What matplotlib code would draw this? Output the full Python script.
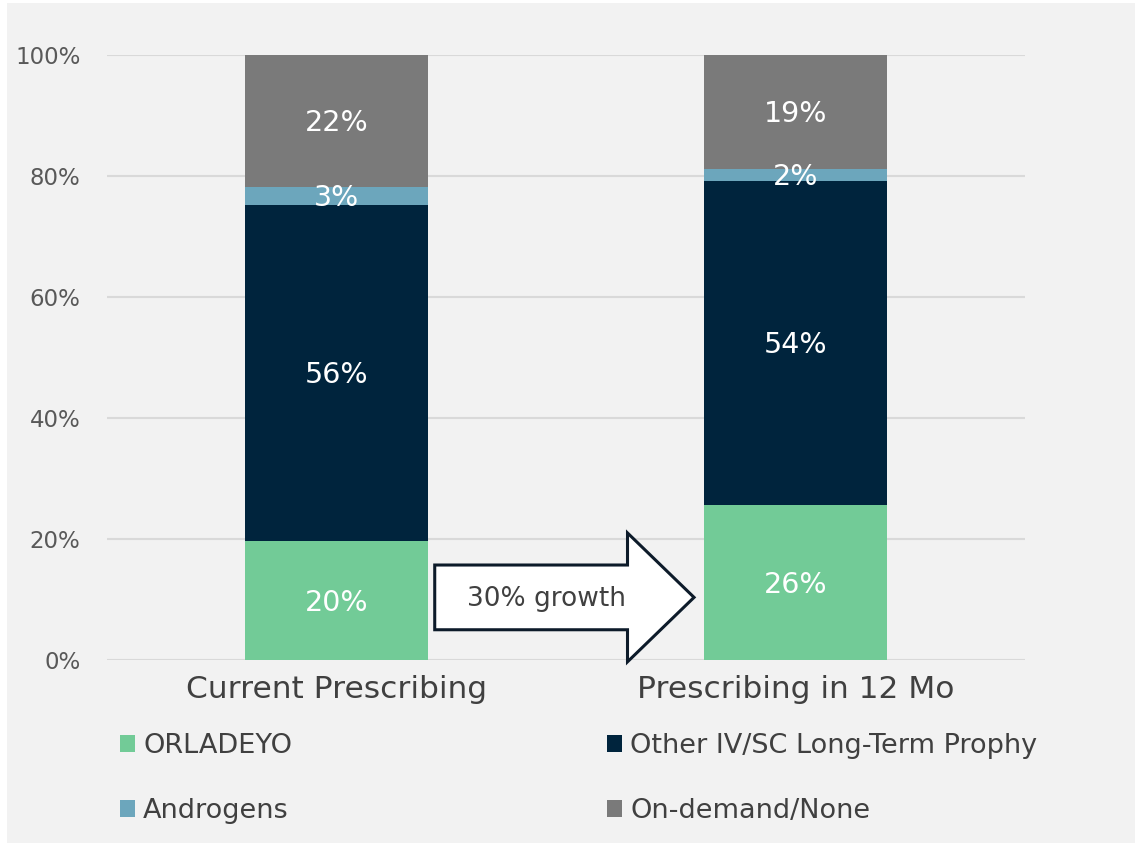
import matplotlib.pyplot as plt
import numpy as np
from matplotlib.patches import FancyArrow, Rectangle, Patch

plt.rcParams['font.family'] = ['DejaVu Sans']

categories = ["Current Prescribing", "Prescribing in 12 Mo"]
series = ["ORLADEYO", "Other IV/SC Long-Term Prophy", "Androgens", "On-demand/None"]
orladeyo = [19.7, 25.6]
other_iv = [55.5, 53.6]
androgens = [3.0, 2.0]
on_demand = [21.8, 18.8]
colors = ["#72CB97", "#00243D", "#6CA6BC", "#7A7A7A"]
yticks = [0, 20, 40, 60, 80, 100]
arrow_text = "30% growth"

fig = plt.figure(figsize=(11.35, 8.43), dpi=100, facecolor="white")
fig.add_artist(Rectangle((7/1135, 0), 1, 1 - 3/843, transform=fig.transFigure,
                         facecolor="#F2F2F2", edgecolor="none", zorder=-10))
ax = fig.add_axes([107/1135, 1 - 660/843, (1025-107)/1135, (660-55)/843])
ax.set_facecolor("none")

x = np.arange(len(categories))
bottom = np.zeros(len(categories))
data = [orladeyo, other_iv, androgens, on_demand]
for vals, name, c in zip(data, series, colors):
    vals = np.array(vals)
    ax.bar(x, vals, 0.4, bottom=bottom, color=c, zorder=3, label=name)
    for xi, b, v in zip(x, bottom, vals):
        ax.text(xi, b + v / 2 - 0.35, f"{v:.0f}%", ha="center", va="center",
                color="white", fontsize=20.5, zorder=5)
    bottom += vals

ax.set_xlim(-0.5, 1.5)
ax.set_ylim(0, 100)
ax.set_yticks(yticks)
ax.set_yticklabels([f"{t}%" for t in yticks], fontsize=16.5, color="#595959")
ax.yaxis.grid(True, color="#D9D9D9", lw=1.5, zorder=0)
ax.set_xticks(x)
ax.set_xticklabels(categories, fontsize=22.5, color="#404040")
ax.tick_params(length=0)
ax.tick_params(axis="y", pad=19)
ax.tick_params(axis="x", pad=11)
for s in ax.spines.values():
    s.set_visible(False)

arr = FancyArrow(0.214, 10.35, 0.565, 0, width=10.7, head_width=21.3,
                 head_length=0.145, length_includes_head=True,
                 facecolor="white", edgecolor="#0D1B2A", lw=2.2,
                 zorder=6, clip_on=False)
ax.add_patch(arr)
ax.text(0.458, 10.0, arrow_text, ha="center", va="center", fontsize=19,
        color="#404040", zorder=7)

def legend_at(items, xpos):
    hs = [Patch(facecolor=colors[i]) for i in items]
    lg = fig.legend(hs, [series[i] for i in items], loc="upper left",
                    bbox_to_anchor=(xpos, 1 - 733/843), frameon=False,
                    fontsize=19.5, handlelength=0.55, handleheight=0.55,
                    handletextpad=0.3, labelspacing=1.44, borderaxespad=0,
                    borderpad=0)
    for t in lg.get_texts():
        t.set_color("#404040")
    return lg

legend_at([0, 2], 120/1135)
legend_at([1, 3], 607/1135)

fig.savefig("out.png", dpi=100, facecolor=fig.get_facecolor())
